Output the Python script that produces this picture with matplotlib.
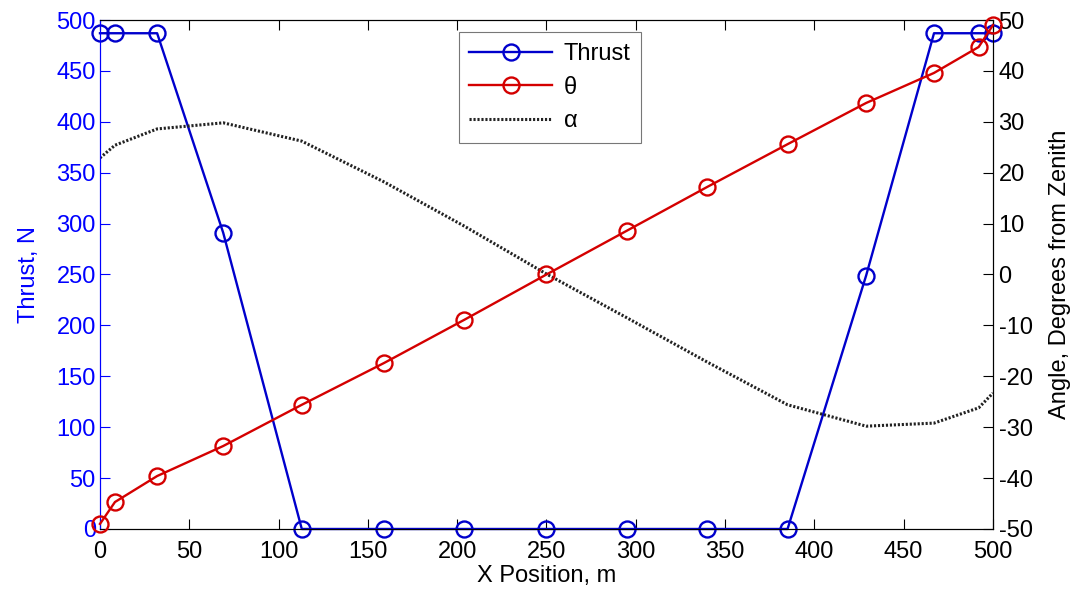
import matplotlib
matplotlib.use("Agg")
import matplotlib.pyplot as plt

plt.rcParams['font.family'] = ['Liberation Sans', 'DejaVu Sans']
plt.rcParams['axes.unicode_minus'] = False

# trajectory samples
x_pos = [0, 8.4, 32, 69, 113, 159, 204, 250, 295, 340, 385, 429, 467, 492, 500]
thrust = [487, 487, 487, 291, 0, 0, 0, 0, 0, 0, 0, 249, 487, 487, 487]
theta = [-49, -44.7, -39.6, -33.7, -25.6, -17.4, -8.9, 0, 8.6, 17.2, 25.6, 33.7, 39.6, 44.7, 49]
alpha = [22.9, 25.4, 28.6, 29.8, 26.2, 18.2, 9.5, 0.1, -8.5, -17.2, -25.6, -29.8, -29.2, -26.2, -23.3]

blue = "#0000cc"
red = "#d40000"

fig = plt.figure(figsize=(10.82, 5.99), dpi=100)
ax = fig.add_axes([0.0924, 0.1169, 0.8253, 0.8497])
ax2 = ax.twinx()

l1, = ax.plot(x_pos, thrust, "-o", color=blue, lw=1.7, markersize=11.5,
              markerfacecolor="none", markeredgewidth=1.7, clip_on=False, zorder=3, label="Thrust")
l2, = ax2.plot(x_pos, theta, "-o", color=red, lw=1.7, markersize=11.5,
               markerfacecolor="none", markeredgewidth=1.7, clip_on=False, zorder=3, label="θ")
l3, = ax2.plot(x_pos, alpha, color="#222222", lw=2.2, dashes=(0.7, 0.6), label="α")

ax.set_xlim(0, 500)
ax.set_ylim(0, 500)
ax2.set_ylim(-50, 50)
ax.set_xticks(range(0, 501, 50))
ax.set_yticks(range(0, 501, 50))
ax2.set_yticks(range(-50, 51, 10))

fs = 17
ax.tick_params(axis="x", direction="in", top=True, labelsize=fs, length=7, colors="black", pad=9)
ax.tick_params(axis="y", direction="in", labelsize=fs, length=7, colors="blue", pad=3)
ax2.tick_params(axis="y", direction="in", labelsize=fs, length=7, colors="black", pad=4)
ax.spines["left"].set_color("blue")
ax2.spines["left"].set_color("blue")
for a in (ax, ax2):
    for s in a.spines.values():
        s.set_linewidth(0.8)

ax.set_xlabel("X Position, m", fontsize=fs, labelpad=1)
ax.set_ylabel("Thrust, N", fontsize=fs, color="blue", labelpad=12)
ax2.set_ylabel("Angle, Degrees from Zenith", fontsize=fs, labelpad=12)

leg = ax2.legend(handles=[l1, l2, l3], loc="upper center", bbox_to_anchor=(0.504, 0.976),
                 fontsize=fs, frameon=True, fancybox=False, edgecolor="#555555",
                 handlelength=3.5, borderpad=0.45, labelspacing=0.5, handletextpad=0.5,
                 borderaxespad=0)
leg.get_frame().set_linewidth(0.8)

fig.savefig("out.png", dpi=100)
